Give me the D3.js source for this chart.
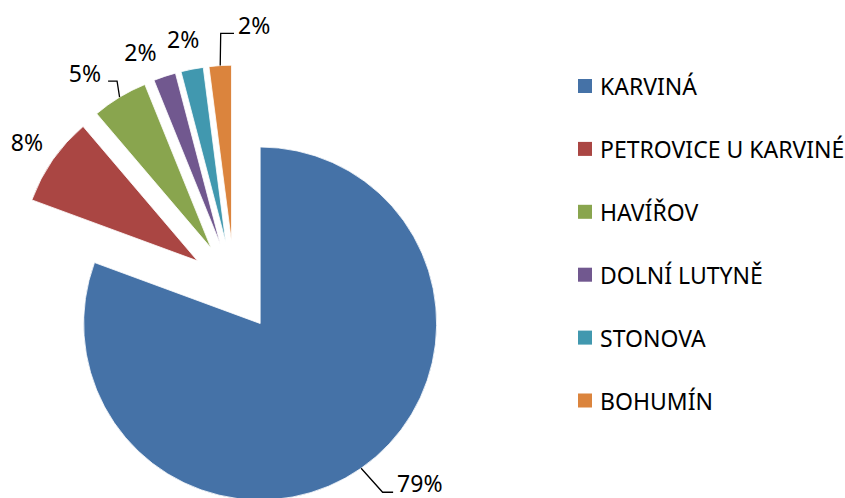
<!DOCTYPE html>
<html>
<head>
<meta charset="utf-8">
<script src="https://cdn.jsdelivr.net/npm/d3@7"></script>
<style>
    body { margin: 0; background: #ffffff; }
    svg text { font-family: "Noto Sans", "Open Sans", sans-serif; fill: #000000; }
</style>
</head>
<body>
<div id="chart"></div>
<script>
// Chart data
var categories = ["KARVINÁ", "PETROVICE U KARVINÉ", "HAVÍŘOV", "DOLNÍ LUTYNĚ", "STONOVA", "BOHUMÍN"];
var values = [79, 8, 5, 2, 2, 2];
var colors = ["#4572a7", "#aa4643", "#89a54e", "#71588f", "#4198af", "#db843d"];

var width = 845, height = 498;

// Pie geometry (all slices exploded by the same amount along their bisector)
var params = {
    cx: 234.4,
    cy: 286.6,
    radius: 176.5,
    explode: 45,
    labelRadius: 208,
    fontSize: 23,
    legendX: 578,
    legendY: 86,
    legendStep: 62.9,
    legendBox: 14
};

// Excel's "best fit" nudges some small labels off the bisector (degrees)
var labelShift = { 3: -4.2, 4: -0.8 };

// Labels that Excel pushed aside get a leader line: elbow and end relative to the arc point,
// text anchored at the end of the leader.
var leaders = {
    0: { elbow: [21.5, 24], end: [32, 24], anchor: "start", dx: 4, dy: -9 },
    2: { elbow: [-2.5, -16], end: [-11.5, -16], anchor: "end", dx: -7, dy: -8 },
    5: { elbow: [0.5, -32.2], end: [13.8, -32.2], anchor: "start", dx: 4, dy: -8 }
};

var svg = d3.select("#chart").append("svg")
    .attr("width", width)
    .attr("height", height);

var pie = d3.pie().sort(null).value(function (d) { return d; });
var arcs = pie(values);

var arc = d3.arc().innerRadius(0).outerRadius(params.radius);

function midAngle(d) { return (d.startAngle + d.endAngle) / 2; }

// unit vector for a pie angle (0 = 12 o'clock, clockwise)
function dir(a) { return [Math.sin(a), -Math.cos(a)]; }

var slices = svg.append("g").attr("class", "slices")
    .selectAll("g.slice")
    .data(arcs)
    .enter().append("g")
    .attr("class", "slice")
    .attr("transform", function (d) {
        var u = dir(midAngle(d));
        return "translate(" + (params.cx + u[0] * params.explode) + "," + (params.cy + u[1] * params.explode) + ")";
    });

slices.append("path")
    .attr("d", arc)
    .attr("fill", function (d, i) { return colors[i]; })
    .attr("stroke", "#ffffff")
    .attr("stroke-width", 0.8);

// Data labels
slices.each(function (d, i) {
    var g = d3.select(this);
    var u = dir(midAngle(d));
    var text = values[i] + "%";
    var leader = leaders[i];
    if (leader) {
        var p = [u[0] * params.radius, u[1] * params.radius];
        var e = [p[0] + leader.elbow[0], p[1] + leader.elbow[1]];
        var f = [p[0] + leader.end[0], p[1] + leader.end[1]];
        g.append("polyline")
            .attr("points", [p, e, f].map(function (q) { return q.join(","); }).join(" "))
            .attr("fill", "none")
            .attr("stroke", "#000000")
            .attr("stroke-width", 1.3);
        g.append("text")
            .attr("x", f[0] + leader.dx)
            .attr("y", f[1] + leader.dy)
            .attr("text-anchor", leader.anchor)
            .attr("dominant-baseline", "central")
            .style("font-size", params.fontSize + "px")
            .text(text);
    } else {
        var a = midAngle(d) + (labelShift[i] || 0) * Math.PI / 180;
        var v = dir(a);
        g.append("text")
            .attr("x", v[0] * params.labelRadius)
            .attr("y", v[1] * params.labelRadius)
            .attr("text-anchor", "middle")
            .attr("dominant-baseline", "central")
            .style("font-size", params.fontSize + "px")
            .text(text);
    }
});

// Legend
var legend = svg.append("g").attr("class", "legend")
    .selectAll("g.item")
    .data(categories)
    .enter().append("g")
    .attr("class", "item")
    .attr("transform", function (d, i) {
        return "translate(" + params.legendX + "," + (params.legendY + i * params.legendStep) + ")";
    });

legend.append("rect")
    .attr("x", 0)
    .attr("y", -params.legendBox / 2)
    .attr("width", params.legendBox)
    .attr("height", params.legendBox)
    .attr("fill", function (d, i) { return colors[i]; });

legend.append("text")
    .attr("x", 22)
    .attr("y", 0)
    .attr("dominant-baseline", "central")
    .style("font-size", params.fontSize + "px")
    .text(function (d) { return d; });
</script>
</body>
</html>
